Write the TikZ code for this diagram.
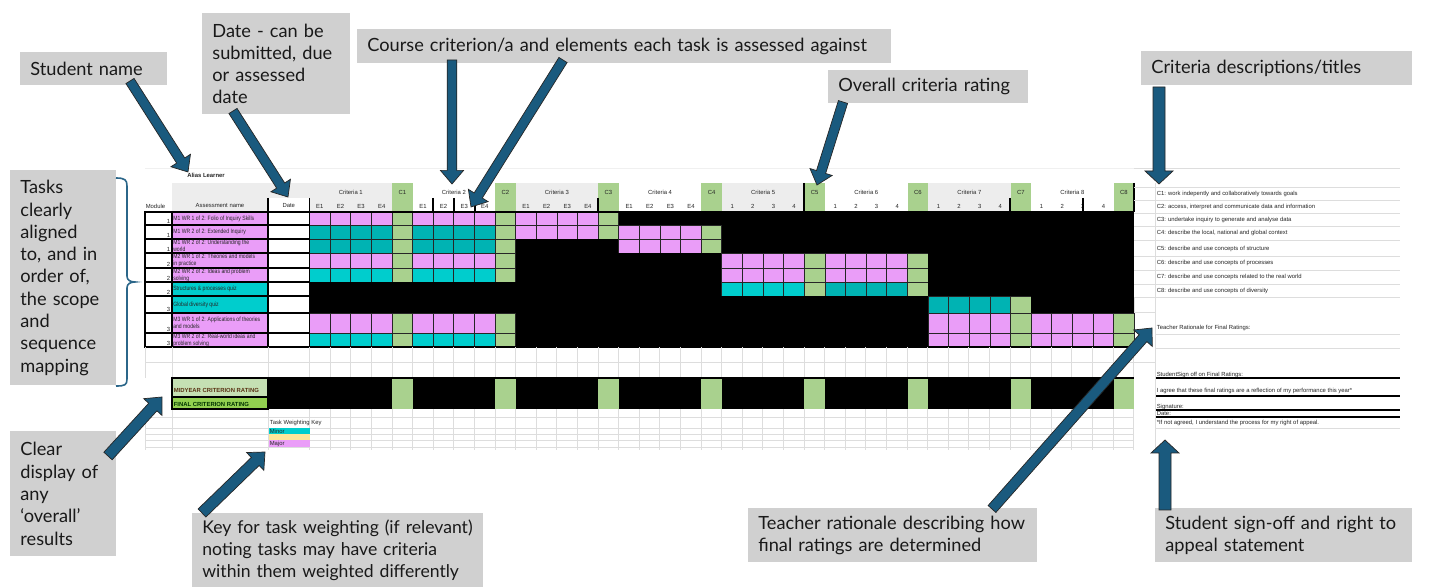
\documentclass[tikz,border=0pt]{standalone}
\usepackage{fontspec}
\setmainfont{Lato}
\newfontfamily\sheetfont{Liberation Sans}
\newfontfamily\narrowfont[FakeStretch=0.82]{Liberation Sans}
\usetikzlibrary{calc}
\definecolor{callgray}{HTML}{D0D0D0}
\definecolor{arrowblue}{HTML}{1A5A7E}
\definecolor{pinkc}{HTML}{EA9DF8}
\definecolor{tealc}{HTML}{00B3B3}
\definecolor{cyanc}{HTML}{00CDCD}
\definecolor{greenc}{HTML}{A9D18E}
\definecolor{hdrgray}{HTML}{EDEDED}
\definecolor{midgreen}{HTML}{C5E0B3}
\definecolor{finalgreen}{HTML}{92D050}
\definecolor{keyyellow}{HTML}{FFE699}
\definecolor{gridgray}{HTML}{DDDDDD}
\definecolor{bracketblue}{HTML}{2B6689}
\definecolor{sheettext}{HTML}{262626}
\definecolor{ratetext}{HTML}{5A3214}
\colorlet{cellP}{pinkc}
\colorlet{cellT}{tealc}
\colorlet{cellQ}{cyanc}
\newcommand\calloutfont{\fontsize{9.1}{11.15}\selectfont}
\newcommand\tinyfont{\sheetfont\fontsize{2.95}{3.3}\selectfont}
\newcommand\namefont{\narrowfont\fontsize{3.1}{3.45}\selectfont}
\newcommand\blockarrow[5]{%
  \coordinate (banck) at ($(#2)!#5!(#1)$);
  \filldraw[arrowsty] ($(#1)!#3!90:(#2)$) -- ($(banck)!#3!90:(#2)$) -- ($(banck)!#4!90:(#2)$) -- (#2)
    -- ($(banck)!#4!-90:(#2)$) -- ($(banck)!#3!-90:(#2)$) -- ($(#1)!#3!-90:(#2)$) -- cycle;
}
\begin{document}
\begin{tikzpicture}[x=0.5pt,y=-0.5pt,
  callout/.style={fill=callgray, anchor=north west, inner xsep=5pt, inner ysep=0pt, align=left, font=\calloutfont, text=black!90},
  sheetlbl/.style={font=\tinyfont, text=sheettext, inner sep=0.2pt},
  cellline/.style={draw=black!85, line width=0.45pt},
  rowline/.style={draw=black, line width=0.55pt},
  lightline/.style={draw=gridgray, line width=0.4pt},
  arrowsty/.style={fill=arrowblue, draw=black!85, line width=0.35pt, line join=miter},
  bracket/.style={draw=bracketblue, line width=0.8pt}]
\useasboundingbox (0,0) rectangle (1437,587);
\fill[white] (0,0) rectangle (1437,587);

% faint top line of sheet
\draw[draw=black!6, line width=0.4pt] (145,168) -- (1400,168);

% ---------- header ----------
\fill[hdrgray] (172,183) rectangle (309.5,198);
\fill[hdrgray] (172,198) rectangle (268,212);
\node[sheetlbl, font=\tinyfont\bfseries] (alias) at (206,175) {Alias Learner};
\node[sheetlbl, anchor=west] (hmod) at (145,206) {Module};
\node[sheetlbl] (hname) at (220,206) {Assessment name};
\node[sheetlbl] (hdate) at (288.75,206) {Date};
\foreach \k in {0,...,7}{
  \pgfmathsetmacro\bx{309.5+103.1*\k}
  \pgfmathsetmacro\cx{\bx+82.5}
  \pgfmathsetmacro\ex{\bx+103.1}
  \pgfmathtruncatemacro\kk{\k+1}
  \ifodd\kk\relax \fill[hdrgray] (\bx,183) rectangle (\cx,212); \fi
  \fill[greenc] (\cx,183) rectangle (\ex,212);
  \node[sheetlbl] (crit\kk) at ({(\bx+\cx)/2},192) {Criteria \kk};
  \node[sheetlbl] (chd\kk) at ({(\cx+\ex)/2},192) {C\kk};
  \foreach \j in {1,...,4}{
    \node[sheetlbl] (el\kk\j) at ({\bx+20.625*\j-10.3},206) {\ifnum\kk<5 E\j\else\j\fi};
  }
}
\draw[rowline] (268,198) -- (268,212);
\draw[rowline] (309.5,198) -- (309.5,212);
\foreach \xx in {433,454,475,598,1010,1083}{\draw[rowline] (\xx,198) -- (\xx,212);}
\draw[rowline] (804,183) -- (804,212);
\draw[rowline] (1134,183) -- (1134,212);

% ---------- data rows ----------
\foreach \ya/\yb/\mod/\ncol/\pat/\nm [count=\r] in {
212/225/1/pinkc/{P,P,P,K,K,K,K,K}/{M1 WR 1 of 2: Folio of Inquiry Skills},
225/239/1/pinkc/{T,T,P,P,K,K,K,K}/{M1 WR 2 of 2: Extended Inquiry},
239/253/1/pinkc/{T,T,K,P,K,K,K,K}/{M1 WR 2 of 2: Understanding the\\world},
253/268/2/pinkc/{P,P,K,K,P,P,K,K}/{M2 WR 1 of 2: Theories and models\\in practice},
268/282/2/pinkc/{Q,Q,K,K,P,P,K,K}/{M2 WR 2 of 2: Ideas and problem\\solving},
282/296/2/cyanc/{K,K,K,K,Q,T,K,K}/{Structures \& processes quiz},
296/313/3/cyanc/{K,K,K,K,K,K,T,K}/{Global diversity quiz},
313/333/3/pinkc/{P,P,K,K,K,K,P,P}/{M3 WR 1 of 2: Applications of theories\\and models},
333/347/3/pinkc/{Q,Q,K,K,K,K,P,P}/{M3 WR 2 of 2: Real-world ideas and\\problem solving}}{
  \fill[\ncol] (172,\ya) rectangle (268,\yb);
  \foreach \c [count=\k from 0] in \pat {
    \pgfmathsetmacro\bx{309.5+103.1*\k}
    \pgfmathsetmacro\cx{\bx+82.5}
    \pgfmathsetmacro\ex{\bx+103.1}
    \if\c K
      \fill[black] (\bx,\ya) rectangle (\ex,\yb);
    \else
      \fill[cell\c] (\bx,\ya) rectangle (\cx,\yb);
      \fill[greenc] (\cx,\ya) rectangle (\ex,\yb);
      \foreach \j in {1,2,3}{\draw[cellline] ({\bx+20.625*\j},\ya) -- ({\bx+20.625*\j},\yb);}
      \draw[cellline] (\bx,\ya) rectangle (\cx,\yb);
      \draw[cellline] (\cx,\ya) rectangle (\ex,\yb);
    \fi
  }
  \draw[rowline] (145,\ya) rectangle (172,\yb);
  \draw[rowline] (172,\ya) rectangle (268,\yb);
  \draw[rowline] (268,\ya) rectangle (309.5,\yb);
  \node[sheetlbl, anchor=south east] (mod\r) at (171,\yb-0.8) {\mod};
  \node[sheetlbl, anchor=west, align=left, font=\namefont, text=black!85] (task\r) at (172.5,{(\ya+\yb)/2}) {\nm};
}
\draw[line width=0.8pt] (145,212) -- (1134,212);
\draw[line width=0.8pt] (145,347) -- (1134,347);

% ---------- grid below ----------
\foreach \xx in {145,172,268,309.5}{
  \draw[lightline] (\xx,347) -- (\xx,378);
  \draw[lightline] (\xx,409) -- (\xx,450);
}
\foreach \i in {1,...,40}{
  \pgfmathsetmacro\xx{309.5+20.6*\i}
  \draw[lightline] (\xx,347) -- (\xx,378);
  \draw[lightline] (\xx,409) -- (\xx,450);
}
\foreach \yy in {362,417,428,434,440,447}{\draw[lightline] (145,\yy) -- (1134,\yy);}

% ---------- rating rows ----------
\fill[midgreen] (172,378) rectangle (268,397);
\fill[finalgreen] (172,397) rectangle (268,409);
\fill[black] (268,378) rectangle (1134,409);
\foreach \k in {0,...,7}{
  \pgfmathsetmacro\bx{309.5+103.1*\k}
  \pgfmathsetmacro\cx{\bx+82.5}
  \pgfmathsetmacro\ex{\bx+103.1}
  \fill[greenc] (\cx,379) rectangle (\ex,409);
}
\draw[line width=0.8pt] (172,378) -- (1134,378);
\draw[rowline] (172,378) rectangle (268,409);
\draw[rowline] (172,397) -- (268,397);
\node[sheetlbl, anchor=west, text=ratetext, font=\tinyfont\bfseries] (midyear) at (173,390) {MIDYEAR CRITERION RATING};
\node[sheetlbl, anchor=west, text=black!80!green, font=\tinyfont\bfseries] (final) at (173,404) {FINAL CRITERION RATING};

% ---------- key ----------
\node[sheetlbl, anchor=west, text=black!85] (keytitle) at (269,423) {Task Weighting Key};
\fill[cyanc] (269,428) rectangle (310,434);
\fill[keyyellow] (269,434) rectangle (310,440);
\fill[pinkc] (269,440) rectangle (310,447);
\node[sheetlbl, anchor=west] (kminor) at (269,431) {Minor};
\node[sheetlbl, anchor=west] (kmajor) at (269,443.5) {Major};

% ---------- right panel ----------
\foreach \yy in {168,187,200,213,226,240,256,270,284,297}{\draw[lightline] (1134,\yy) -- (1400,\yy);}
\draw[lightline] (1155,183) -- (1155,450);
\draw[lightline] (1134,297) rectangle (1155,312);
\foreach \yy/\tx [count=\i] in {
194/{C1: work indepently and collaboratively towards goals},
207/{C2: access, interpret and communicate data and information},
220/{C3: undertake inquiry to generate and analyse data},
233/{C4: describe the local, national and global context},
249/{C5: describe and use concepts of structure},
263/{C6: describe and use concepts of processes},
277/{C7: describe and use concepts related to the real world},
291/{C8: describe and use concepts of diversity}}{
  \node[sheetlbl, anchor=west] (cdesc\i) at (1156,\yy) {\tx};
}
\node[sheetlbl, anchor=west, text=black!85] (trat) at (1156,328) {Teacher Rationale for Final Ratings:};
\draw[lightline] (1155,334) -- (1400,334);
\draw[lightline] (1155,348) -- (1400,348);
\draw[lightline] (1134,362) -- (1155,362);
\node[sheetlbl, anchor=west, text=black!85] (ssign) at (1156,374.5) {StudentSign off on Final Ratings:};
\draw[line width=0.6pt] (1156,378) -- (1400,378);
\node[sheetlbl, anchor=west] (agree) at (1156,391) {I agree that these final ratings are a reflection of my performance this year*};
\draw[line width=0.6pt] (1156,396) -- (1400,396);
\node[sheetlbl, anchor=west] (sig) at (1156,406.5) {Signature:};
\draw[line width=0.6pt] (1156,410) -- (1400,410);
\node[sheetlbl, anchor=west] (sdate) at (1156,413.5) {Date:};
\draw[line width=0.6pt] (1156,417) -- (1400,417);
\node[sheetlbl, anchor=west] (appeal) at (1156,423) {*If not agreed, I understand the process for my right of appeal.};
\draw[lightline] (1155,428) -- (1400,428);

% ---------- callouts ----------
\node[callout, minimum width=73.5pt, minimum height=16.5pt, text width=63.5pt] (bstudent) at (20,52) {\mbox{Student name}};
\node[callout, minimum width=74pt, minimum height=50.5pt, text width=64pt] (bdate) at (202,13) {\mbox{Date - can be}\\\mbox{submitted, due}\\\mbox{or assessed}\\date};
\node[callout, minimum width=267pt, minimum height=17pt, text width=257pt] (bcourse) at (357,29) {\mbox{Course criterion/a and elements each task is assessed against}};
\node[callout, minimum width=100pt, minimum height=16.5pt, text width=90pt] (boverall) at (828,70) {\mbox{Overall criteria rating}};
\node[callout, minimum width=135.5pt, minimum height=17pt, text width=125.5pt] (bdesc) at (1141,51) {\mbox{Criteria descriptions/titles}};
\node[callout, minimum width=53pt, minimum height=107.5pt, text width=43pt] (btasks) at (10,170) {Tasks\\clearly\\aligned\\\mbox{to, and in}\\\mbox{order of,}\\\mbox{the scope}\\and\\sequence\\mapping};
\node[callout, minimum width=53pt, minimum height=62.5pt, text width=43pt] (bclear) at (10,431) {Clear\\\mbox{display of}\\any\\‘overall’\\results};
\node[callout, font=\fontsize{8.8}{11.15}\selectfont, minimum width=145.5pt, minimum height=37pt, text width=135.5pt] (bkey) at (192,513) {\mbox{Key for task weighting (if relevant)}\\\mbox{noting tasks may have criteria}\\\mbox{within them weighted differently}};
\node[callout, minimum width=144.5pt, minimum height=27pt, text width=134.5pt] (bteacher) at (748,508) {\mbox{Teacher rationale describing how}\\\mbox{final ratings are determined}};
\node[callout, minimum width=128.5pt, minimum height=27pt, text width=118.5pt] (bsign) at (1155,508) {\mbox{Student sign-off and right to}\\\mbox{appeal statement}};

% bracket
\draw[bracket] (116,178) .. controls (125,178) and (127,180) .. (127,186) -- (127,276)
  .. controls (127,280) and (130,282) .. (135,282) .. controls (130,282) and (127,284) .. (127,288)
  -- (127,379) .. controls (127,385) and (125,386) .. (116,386);

% ---------- arrows ----------
\coordinate (a1s) at (130,81);   \coordinate (a1t) at (188,172);
\coordinate (a2s) at (233,111);  \coordinate (a2t) at (288,197);
\coordinate (a3s) at (452,60);   \coordinate (a3t) at (452,184);
\coordinate (a4s) at (563,60);   \coordinate (a4t) at (471,207);
\coordinate (a5s) at (843,102);  \coordinate (a5t) at (817,185);
\coordinate (a6s) at (1159,87);  \coordinate (a6t) at (1159,184);
\coordinate (a7s) at (108,456);  \coordinate (a7t) at (162,397);
\coordinate (a8s) at (202,513);  \coordinate (a8t) at (265,452);
\coordinate (a9s) at (992,509);  \coordinate (a9t) at (1152,328);
\coordinate (a10s) at (1165,510); \coordinate (a10t) at (1165,440);
\blockarrow{a1s}{a1t}{2.4pt}{5.8pt}{6.8pt}
\blockarrow{a2s}{a2t}{2.4pt}{5.8pt}{6.8pt}
\blockarrow{a3s}{a3t}{2.4pt}{5.8pt}{6.8pt}
\blockarrow{a4s}{a4t}{2.4pt}{5.8pt}{6.8pt}
\blockarrow{a5s}{a5t}{2.4pt}{5.8pt}{6.8pt}
\blockarrow{a6s}{a6t}{3pt}{7pt}{6.5pt}
\blockarrow{a7s}{a7t}{2.8pt}{6.2pt}{6.8pt}
\blockarrow{a8s}{a8t}{2.8pt}{6.2pt}{6.8pt}
\blockarrow{a9s}{a9t}{2.6pt}{6.2pt}{6.8pt}
\blockarrow{a10s}{a10t}{3pt}{7pt}{6.5pt}
\end{tikzpicture}
\end{document}
